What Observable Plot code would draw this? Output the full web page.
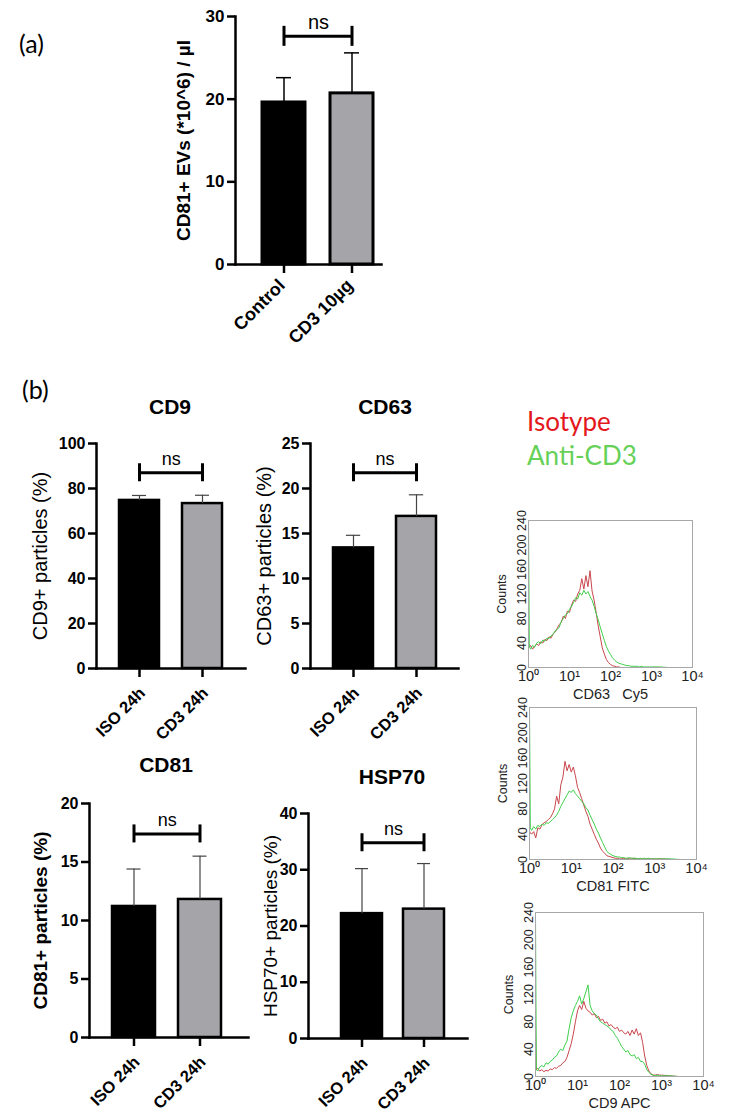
<!DOCTYPE html>
<html><head><meta charset="utf-8">
<script src="https://cdn.jsdelivr.net/npm/d3@7"></script>
<script src="https://cdn.jsdelivr.net/npm/@observablehq/plot@0.6"></script>
<style>
html,body{margin:0;padding:0;background:#fff;}
#page{position:relative;width:731px;height:1117px;overflow:hidden;background:#fff;font-family:"Liberation Sans",Arial,sans-serif;color:#000;}
.abs{position:absolute;}
.panel{font-family:Lato,"Open Sans",sans-serif;font-size:25px;line-height:1;}
.title{font-weight:bold;font-size:21px;line-height:1;transform:translateX(-50%);white-space:nowrap;}
.legend{font-family:Lato,"Open Sans",sans-serif;font-size:26px;line-height:1;white-space:nowrap;}
.chA g[aria-label="y-axis label"], .chA g[aria-label="y-axis label"] text{font-size:19px;font-weight:bold;}
.chCD9 g[aria-label="y-axis label"], .chCD9 g[aria-label="y-axis label"] text{font-size:20px;font-weight:normal;}
.chCD63 g[aria-label="y-axis label"], .chCD63 g[aria-label="y-axis label"] text{font-size:20px;font-weight:normal;}
.chCD81 g[aria-label="y-axis label"], .chCD81 g[aria-label="y-axis label"] text{font-size:19px;font-weight:bold;}
.chHSP g[aria-label="y-axis label"], .chHSP g[aria-label="y-axis label"] text{font-size:19px;font-weight:normal;}
</style></head>
<body><div id="page"></div>
<script>
// ---------- data ----------
const aCategories = ["Control", "CD3 10µg"];
const aMeans = [19.6, 20.7];
const aErrors = [3.0, 4.9];
const aTicks = [0, 10, 20, 30];

const bCategories = ["ISO 24h", "CD3 24h"];
const cd9Means = [74.7, 73.3];
const cd9Errors = [2.2, 3.7];
const cd9Ticks = [0, 20, 40, 60, 80, 100];
const cd63Means = [13.4, 16.9];
const cd63Errors = [1.4, 2.4];
const cd63Ticks = [0, 5, 10, 15, 20, 25];
const cd81Means = [11.2, 11.8];
const cd81Errors = [3.2, 3.7];
const cd81Ticks = [0, 5, 10, 15, 20];
const hsp70Means = [22.2, 23.0];
const hsp70Errors = [8.0, 8.1];
const hsp70Ticks = [0, 10, 20, 30, 40];
const sigLabel = "ns";

// flow histograms: channel position in decades (10^0 .. 10^4) and counts
const histDecades = [0, 0.02, 0.05, 0.10, 0.15, 0.20, 0.25, 0.30, 0.35, 0.40, 0.45, 0.50, 0.55, 0.60, 0.65, 0.70, 0.75, 0.80, 0.85, 0.90, 0.95, 1.00, 1.05, 1.10, 1.15, 1.20, 1.25, 1.30, 1.35, 1.40, 1.45, 1.50, 1.55, 1.60, 1.65, 1.70, 1.75, 1.80, 1.85, 1.90, 1.95, 2.00, 2.05, 2.10, 2.15, 2.20, 2.25, 2.30, 2.35, 2.40, 2.45, 2.50, 2.55, 2.60, 2.65, 2.70, 2.75, 2.80, 2.85, 2.90, 2.95, 3.00, 3.2, 3.4, 3.6, 3.8, 4.0];
const cd63Isotype = [35, 33,36,30,35,38,36,42,40,46,44, 50,48,55,58,64,70,74,84,80,92, 90,102,110,108,120,126,145,128,150,132, 158,125,110,90,68,50,32,22,13,8, 5,3,2,1,1,0,0,0,0,0, 0,0,0,0,0,0,0,0,0,0, 0,0,0,0,0,0];
const cd63AntiCD3 = [240, 35,30,36,33,40,42,39,45,43,48, 47,52,54,60,62,66,75,80,86,88, 95,100,106,114,112,122,118,126,120,124, 116,110,100,88,78,66,55,44,34,27, 21,16,12,9,7,6,5,4,3,3, 2,2,2,2,1,2,1,1,1,1, 1,1,0,0,0,0];
const cd81Isotype = [45, 42,40,44,34,50,48,55,58,60,63, 66,72,80,100,88,118,130,155,140,150, 138,146,132,114,106,96,86,76,68,56, 48,40,32,26,18,13,10,6,5,4, 3,2,2,1,1,2,1,2,1,1, 2,1,1,1,1,1,1,1,1,1, 1,1,0,0,0,0];
const cd81AntiCD3 = [240, 50,46,52,48,54,52,56,54,58,57, 60,63,66,70,76,84,90,96,102,108, 106,110,104,100,96,92,88,82,78,70, 63,56,48,42,34,27,20,13,10,8, 6,5,4,4,3,3,2,2,3,2, 2,2,1,2,1,2,1,2,1,1, 1,1,1,0,0,0];
const cd9Isotype = [75, 10,12,8,10,7,9,8,11,10,13, 12,15,16,20,22,28,38,48,62,80, 96,104,98,110,100,96,94,90,92,86, 88,82,84,78,80,74,76,72,70,72, 66,68,64,62,66,60,68,62,70,60, 64,50,30,16,8,4,2,2,3,2, 2,1,0,0,0,0];
const cd9AntiCD3 = [240, 10,8,14,16,14,20,18,22,24,28, 30,36,40,38,46,52,70,86,96,104, 110,118,106,114,124,134,104,96,92,90, 84,80,78,76,74,72,68,66,60,56, 50,44,40,36,38,32,30,32,26,28, 22,22,18,10,6,3,2,1,2,1, 1,1,0,0,0,0];
const histTicks = [0, 1, 2, 3, 4];
const histTickLabels = ["10\u2070", "10\u00b9", "10\u00b2", "10\u00b3", "10\u2074"];
const countTicks = [0, 40, 80, 120, 160, 200, 240];

// ---------- helpers ----------
const page = document.getElementById("page");
function place(node, left, top, w) {
  const d = document.createElement("div");
  d.className = "abs";
  d.style.left = left + "px"; d.style.top = top + "px";
  if (w) d.style.width = w + "px";
  d.appendChild(node);
  page.appendChild(d);
  return d;
}
function addText(txt, cls, left, top, color) {
  const d = document.createElement("div");
  d.className = "abs " + cls;
  d.style.left = left + "px"; d.style.top = top + "px";
  if (color) d.style.color = color;
  d.textContent = txt;
  page.appendChild(d);
}

function barChart(o) {
  const rows = o.cats.map((c, i) => ({cat: c, mean: o.means[i], err: o.errs[i]}));
  const innerW = o.width - o.ml - o.mr;
  const step = innerW / (o.cats.length - o.pi + 2 * o.po);
  const band = step * (1 - o.pi);
  const capInset = (band - o.cap) / 2;
  const level = o.yMax * o.bracketFrac;
  return Plot.plot({
    width: o.width, height: o.height,
    marginLeft: o.ml, marginRight: o.mr, marginTop: o.mt, marginBottom: o.mb,
    className: o.cls,
    style: {background: "transparent", overflow: "visible", maxWidth: "none", fontFamily: "'Liberation Sans', Arial, sans-serif", color: "#000"},
    x: {domain: o.cats, paddingInner: o.pi, paddingOuter: o.po, align: o.align},
    y: {domain: [0, o.yMax]},
    color: {domain: o.cats, range: ["#000000", "#a5a4a9"]},
    marks: [
      Plot.barY(rows, {x: "cat", y: "mean", fill: "cat", stroke: "#000", strokeWidth: o.bw}),
      Plot.ruleX(rows, {x: "cat", y1: "mean", y2: d => d.mean + d.err, stroke: o.ec, strokeWidth: o.ew}),
      Plot.tickY(rows, {x: "cat", y: d => d.mean + d.err, stroke: o.ec, strokeWidth: o.ew, insetLeft: capInset, insetRight: capInset}),
      Plot.frame({anchor: "left", strokeWidth: o.aw}),
      Plot.frame({anchor: "bottom", strokeWidth: o.aw}),
      Plot.axisY({ticks: o.yTicks, tickSize: 8, tickPadding: 3, strokeWidth: o.aw, fontSize: o.tfs, fontWeight: "bold",
        label: o.ylabel, labelAnchor: "center", labelOffset: o.lo, labelArrow: "none"}),
      Plot.ruleX(o.cats, {x: d => d, y1: () => 0, y2: () => 0, insetBottom: -9, strokeWidth: o.aw, stroke: "#000"}),
      Plot.axisX({tickSize: 0, tickPadding: 12, dx: o.xdx, dy: o.xdy, tickRotate: -45, fontSize: o.xfs, fontWeight: "bold", label: null}),
      Plot.link([sigLabel], {x1: () => o.cats[0], x2: () => o.cats[1], y1: () => level, y2: () => level, strokeWidth: 3, stroke: "#000"}),
      Plot.ruleX(o.cats, {x: d => d, y1: () => level, y2: () => level, insetTop: -o.bh, insetBottom: -o.bh, strokeWidth: 3, stroke: "#000"}),
      Plot.text([sigLabel], {x: () => o.cats[0], y: () => level, text: d => d, dx: step / 2, dy: -o.nsDy, fontSize: o.nsfs, lineAnchor: "bottom"})
    ]
  });
}

function histPlot(o) {
  const rows = histDecades.map((x, i) => ({x, iso: o.iso[i], cd3: o.cd3[i]}));
  return Plot.plot({
    width: o.width, height: o.height,
    marginLeft: 45, marginRight: 10, marginTop: 8, marginBottom: 40,
    style: {background: "transparent", overflow: "visible", maxWidth: "none", fontFamily: "'Liberation Sans', Arial, sans-serif", color: "#222"},
    x: {domain: [0, 4]},
    y: {domain: [0, 240]},
    marks: [
      Plot.lineY(rows, {x: "x", y: "iso", stroke: "#c8474d", strokeWidth: 1, clip: true}),
      Plot.lineY(rows, {x: "x", y: "cd3", stroke: "#3fcf4c", strokeWidth: 1, clip: true}),
      Plot.frame({stroke: "#a8a8a8"}),
      Plot.axisX({ticks: histTicks, tickFormat: (d, i) => histTickLabels[i], tickSize: 0, tickPadding: 3, fontSize: 14.5,
        label: o.label, labelAnchor: "center", labelOffset: 31, labelArrow: "none"}),
      Plot.axisY({ticks: countTicks, tickSize: 0, tickPadding: 3, tickRotate: -90, fontSize: 12.5,
        label: "Counts", labelAnchor: "center", labelOffset: 31, labelArrow: "none"})
    ]
  });
}

// ---------- panel (a) ----------
addText("(a)", "panel", 19, 31);
place(barChart({cls: "chA", cats: aCategories, means: aMeans, errs: aErrors, yMax: 30, yTicks: aTicks,
  ylabel: "CD81+ EVs (*10^6) / µl", width: 246, height: 344, ml: 80, mr: 20, mt: 16, mb: 80,
  pi: 0.362, po: 0.239, align: 0.77, bw: 3, ew: 1.5, ec: "#000", cap: 16, aw: 2.5, tfs: 17, xfs: 18,
  xdx: -2, xdy: 6, lo: 59, bracketFrac: 0.92, bh: 10, nsfs: 20, nsDy: 7}), 155, 0, 246);

// ---------- panel (b) ----------
addText("(b)", "panel", 22, 377);
addText("CD9", "title", 170, 396);
addText("CD63", "title", 385, 396);
addText("CD81", "title", 166, 754);
addText("HSP70", "title", 392, 766);

const bStyle = {bw: 2.5, ew: 1.2, ec: "#444", cap: 14, aw: 2.5, tfs: 16, xfs: 16.5, xdx: 3, xdy: 10,
  bracketFrac: 0.87, bh: 9, nsfs: 18, nsDy: 8, mr: 15, mt: 20, mb: 80};

place(barChart({...bStyle, cls: "chCD9", cats: bCategories, means: cd9Means, errs: cd9Errors, yMax: 100, yTicks: cd9Ticks,
  ylabel: "CD9+ particles (%)", width: 254, height: 325, ml: 90, pi: 0.37, po: 0.358, align: 0.5, lo: 64}), 6, 423, 254);

place(barChart({...bStyle, cls: "chCD63", cats: bCategories, means: cd63Means, errs: cd63Errors, yMax: 25, yTicks: cd63Ticks,
  ylabel: "CD63+ particles (%)", width: 253, height: 325, ml: 90, pi: 0.37, po: 0.358, align: 0.5, lo: 54}), 220, 423, 253);

place(barChart({...bStyle, cls: "chCD81", cats: bCategories, means: cd81Means, errs: cd81Errors, yMax: 20, yTicks: cd81Ticks,
  ylabel: "CD81+ particles (%)", width: 259, height: 334, ml: 85, pi: 0.353, po: 0.372, align: 0.45, lo: 56}), 4, 783, 259);

place(barChart({...bStyle, cls: "chHSP", cats: bCategories, means: hsp70Means, errs: hsp70Errors, yMax: 40, yTicks: hsp70Ticks,
  ylabel: "HSP70+ particles (%)", width: 264, height: 325, ml: 90, pi: 0.333, po: 0.43, align: 0.59, lo: 45}), 218, 793, 264);

// ---------- flow cytometry histograms ----------
addText("Isotype", "legend", 527, 408, "#e3171c");
addText("Anti-CD3", "legend", 527, 442, "#66d158");
place(histPlot({iso: cd63Isotype, cd3: cd63AntiCD3, label: "CD63\u00a0\u00a0\u00a0Cy5", width: 219, height: 195}), 483, 512, 219);
place(histPlot({iso: cd81Isotype, cd3: cd81AntiCD3, label: "CD81 FITC", width: 222, height: 200}), 484, 699, 222);
place(histPlot({iso: cd9Isotype, cd3: cd9AntiCD3, label: "CD9 APC", width: 223, height: 212}), 490, 904, 223);
</script>
</body></html>
